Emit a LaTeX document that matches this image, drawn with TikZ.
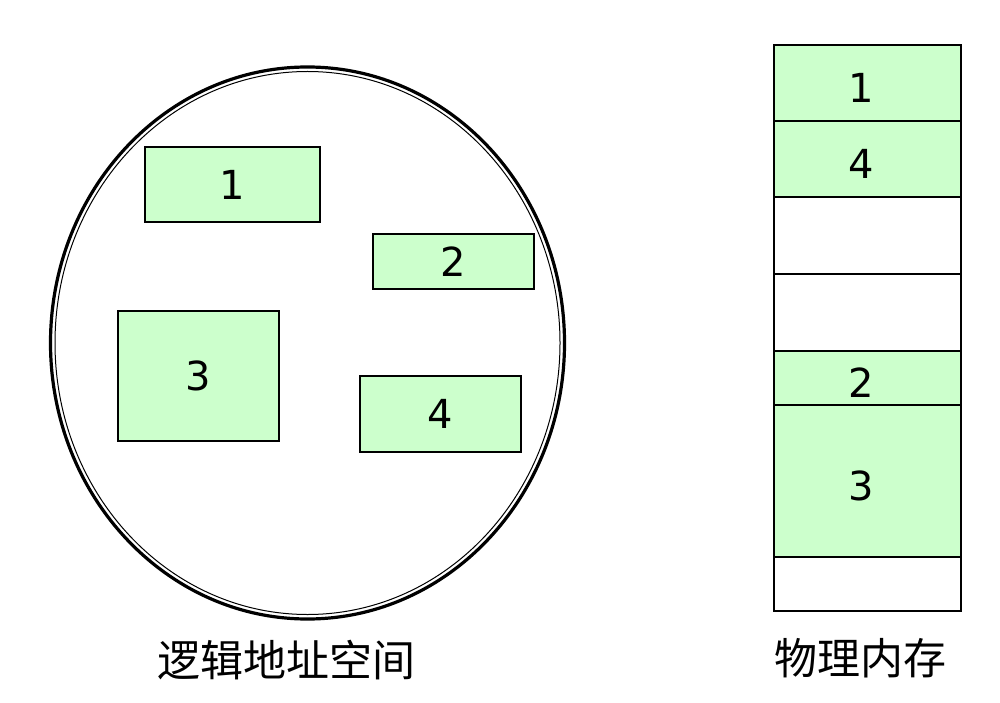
\documentclass[tikz,border=0pt]{standalone}
\usepackage{fontspec}
\setmainfont{DejaVu Sans}
\newfontfamily\cjk{Noto Sans CJK SC}
\definecolor{pg}{HTML}{CCFFCC}
\begin{document}
\begin{tikzpicture}[x=1pt,y=-1pt,
  seg/.style={draw=black,line width=1.3pt,fill=pg},
  emptyseg/.style={draw=black,line width=1.3pt,fill=white},
  num/.style={font=\fontsize{40}{40}\selectfont},
  mnum/.style={num,xshift=-6pt,yshift=-5pt},
  lbl/.style={font=\cjk\fontsize{43}{43}\selectfont}]
\useasboundingbox (0,0) rectangle (1000,703);
% ellipse with double border
\draw[line width=3.2pt] (307.5,343) ellipse [x radius=257, y radius=276];
\draw[line width=1pt] (307.5,343) ellipse [x radius=252.5, y radius=271.5];
% logical segments
\draw[seg] (145,147) rectangle (320,222) node[num,midway] (l1) {1};
\draw[seg] (373,234) rectangle (534,289) node[num,midway] (l2) {2};
\draw[seg] (118,311) rectangle (279,441) node[num,midway] (l3) {3};
\draw[seg] (360,376) rectangle (521,452) node[num,midway] (l4) {4};
% physical memory
\draw[seg] (774,45) rectangle (961,121) node[mnum,midway] (p1) {1};
\draw[seg] (774,121) rectangle (961,197) node[mnum,midway] (p4) {4};
\draw[emptyseg] (774,197) rectangle (961,274);
\draw[emptyseg] (774,274) rectangle (961,351);
\draw[seg] (774,351) rectangle (961,405) node[mnum,midway] (p2) {2};
\draw[seg] (774,405) rectangle (961,557) node[mnum,midway] (p3) {3};
\draw[emptyseg] (774,557) rectangle (961,611);
% labels
\node[lbl] (la) at (286,660) {逻辑地址空间};
\node[lbl] (lb) at (860,658) {物理内存};
\end{tikzpicture}
\end{document}
